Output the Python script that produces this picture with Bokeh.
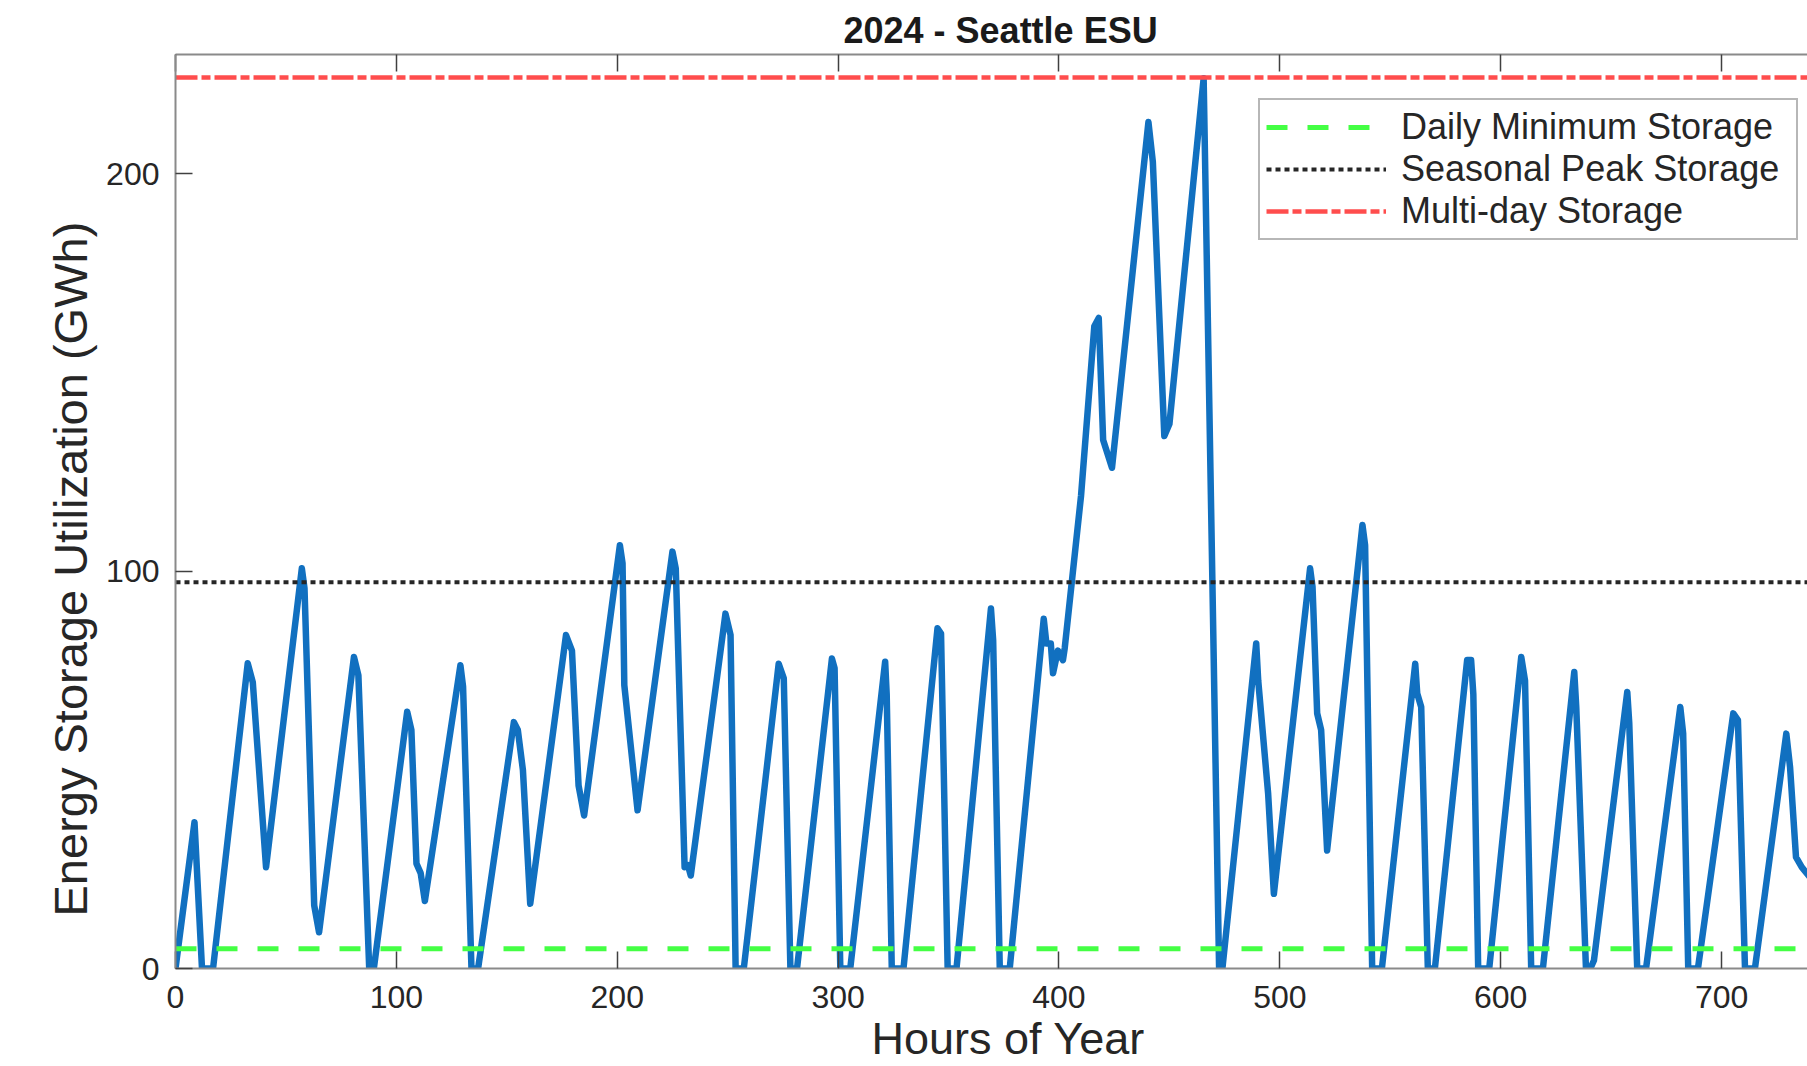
from bokeh.plotting import figure
from bokeh.models import LinearAxis, FixedTicker, Legend, LegendItem, Range1d, Title
from bokeh.embed import file_html
from bokeh.resources import INLINE

# ---- data ----
hours = [0, 8.6, 12, 17, 32.7, 35, 41, 57.2, 58.4, 62.8, 65, 80.8, 82.8, 87.7, 89.8,
         104.9, 106.8, 109.1, 111, 112.9, 129, 130.2, 134, 137, 153.2, 155, 157.3, 160.6,
         176.8, 179.5, 182.5, 185, 201.2, 202.4, 203.2, 209.2, 225, 226.5, 230.5, 232, 233.3,
         249, 251.3, 253.6, 257.3, 273.1, 275.4, 278.4, 281.4, 297.2, 298.4, 301, 305.5,
         321.3, 322, 324.3, 329.6, 345, 346.6, 349.6, 353.6, 369.2, 370.2, 373.2, 377.7,
         393.1, 394.3, 396.3, 397.3, 399.5, 401.8, 402.6, 410, 416, 418, 420, 424,
         440.5, 442.5, 447.7, 450, 465.5, 472.5, 474, 489.3, 490.2, 494.7, 497.3,
         513.7, 514.8, 516.9, 518.7, 521.4, 537.4, 538.6, 541.8, 546.2, 561.3, 562.2, 564,
         567, 570.2, 584.8, 586.6, 587.6, 589.8, 594.8, 609.3, 611, 613.8, 619.1,
         633.3, 634.2, 638.6, 641, 642.2, 657.3, 658.2, 661.8, 665.8, 681.3, 682.6, 684.9,
         689.3, 705.3, 707.4, 710.6, 715.1, 729.3, 731, 733.7, 736.3, 740]
storage = [0, 36.8, 0, 0, 76.8, 72, 25.5, 100.7, 95.7, 15.9, 9.1, 78.4, 73.8, 0, 0,
           64.6, 60, 26.4, 24, 17, 76.3, 70.9, 0, 0, 62, 60, 49.9, 16.3,
           83.9, 80, 46, 38.5, 106.5, 102, 71.3, 39.8, 104.9, 100.6, 25.5, 26, 23.4,
           89.3, 83.9, 0, 0, 76.7, 73, 0, 0, 78, 75.6, 0, 0,
           77.2, 69, 0, 0, 85.6, 84.3, 0, 0, 90.6, 82.6, 0, 0,
           88, 81.8, 81.8, 74.3, 80, 77.6, 80.6, 119, 161.6, 163.7, 133, 126,
           213, 203, 134, 137, 224, 0, 0, 81.8, 72.5, 44, 18.8,
           100.7, 96, 64.2, 60, 29.7, 111.6, 106.5, 0, 0, 76.7, 69.2, 65.8,
           0, 0, 77.6, 77.6, 69, 0, 0, 78.4, 72.5, 0, 0,
           74.6, 65.8, 0, 0.5, 2, 69.6, 61.7, 0, 0, 65.8, 59.2, 0,
           0, 64.2, 62.5, 0, 0, 59.1, 50.7, 28, 25.5, 23]

hour_limits = [0, 744]
daily_min = 5.0
seasonal_peak = 97.2
multi_day = 224.2

x_ticks = [0, 100, 200, 300, 400, 500, 600, 700]
y_ticks = [0, 100, 200]

title_text = "2024 - Seattle ESU"
x_label = "Hours of Year"
y_label = "Energy Storage Utilization (GWh)"
legend_labels = ["Daily Minimum Storage", "Seasonal Peak Storage", "Multi-day Storage"]

FONT = "Liberation Sans"
AXIS_GRAY = "#8a8a8a"
TEXT = "#262626"

p = figure(width=1807, height=1066, output_backend="svg", toolbar_location=None,
           x_range=Range1d(0, 738.9), y_range=Range1d(0, 230),
           min_border_left=175, min_border_right=0, min_border_top=54, min_border_bottom=98,
           title=None)
p.outline_line_color = None
p.background_fill_color = "white"
p.border_fill_color = "white"
p.xgrid.visible = False
p.ygrid.visible = False

def style_axis(ax, ticks, labels=True):
    ax.ticker = FixedTicker(ticks=ticks)
    ax.axis_line_color = AXIS_GRAY
    ax.axis_line_width = 2
    ax.major_tick_line_color = "#404040"
    ax.major_tick_line_width = 1.5
    ax.major_tick_in = 17
    ax.major_tick_out = 0
    ax.minor_tick_in = 0
    ax.minor_tick_out = 0
    ax.minor_tick_line_color = None
    if labels:
        ax.major_label_text_font = FONT
        ax.major_label_text_font_size = "32px"
        ax.major_label_text_color = TEXT
    else:
        ax.major_label_overrides = {t: "" for t in ticks}
        ax.major_label_text_font_size = "0px"
        ax.major_label_standoff = 0

style_axis(p.xaxis[0], x_ticks)
style_axis(p.yaxis[0], y_ticks)
p.xaxis[0].major_label_standoff = 17
p.yaxis[0].major_label_standoff = 16

top_axis = LinearAxis()
style_axis(top_axis, x_ticks, labels=False)
p.add_layout(top_axis, "above")

# main series
p.line(hours, storage, line_color="#1170C0", line_width=6.5, line_join="round")

r_min = p.line(hour_limits, [daily_min, daily_min], line_color="#44FF44", line_width=5,
               line_dash="21 20")
r_peak = p.line(hour_limits, [seasonal_peak, seasonal_peak], line_color="#262626",
                line_width=4, line_dash="5 4")
r_multi = p.line(hour_limits, [multi_day, multi_day], line_color="#FF4D4D", line_width=4.5,
                 line_dash="22 4 9 4")

legend = Legend(items=[LegendItem(label=legend_labels[0], renderers=[r_min]),
                       LegendItem(label=legend_labels[1], renderers=[r_peak]),
                       LegendItem(label=legend_labels[2], renderers=[r_multi])],
                location=(1083, 728))
legend.label_text_font = FONT
legend.label_text_font_size = "36px"
legend.label_text_color = TEXT
legend.glyph_width = 120
legend.glyph_height = 40
legend.label_height = 40
legend.label_width = 389
legend.label_standoff = 15
legend.padding = 6
legend.spacing = -3
legend.margin = 0
legend.border_line_color = "#707070"
legend.border_line_width = 2
legend.background_fill_color = "white"
legend.background_fill_alpha = 1
p.add_layout(legend)

# title
t = Title(text=title_text, align="left", offset=668, text_font=FONT, text_font_size="36px",
          text_font_style="bold", text_color="#1a1a1a", standoff=7)
p.add_layout(t, "above")

# axis labels as side titles, placed along the axes
xl = Title(text=x_label, align="left", offset=696, text_font=FONT, text_font_size="45px",
           text_font_style="normal", text_color=TEXT, standoff=0)
p.add_layout(xl, "below")
yl = Title(text=y_label, align="left", offset=52, text_font=FONT, text_font_size="47px",
           text_font_style="normal", text_color=TEXT, standoff=13)
p.add_layout(yl, "left")

open("out.html", "w").write(file_html(p, INLINE))
